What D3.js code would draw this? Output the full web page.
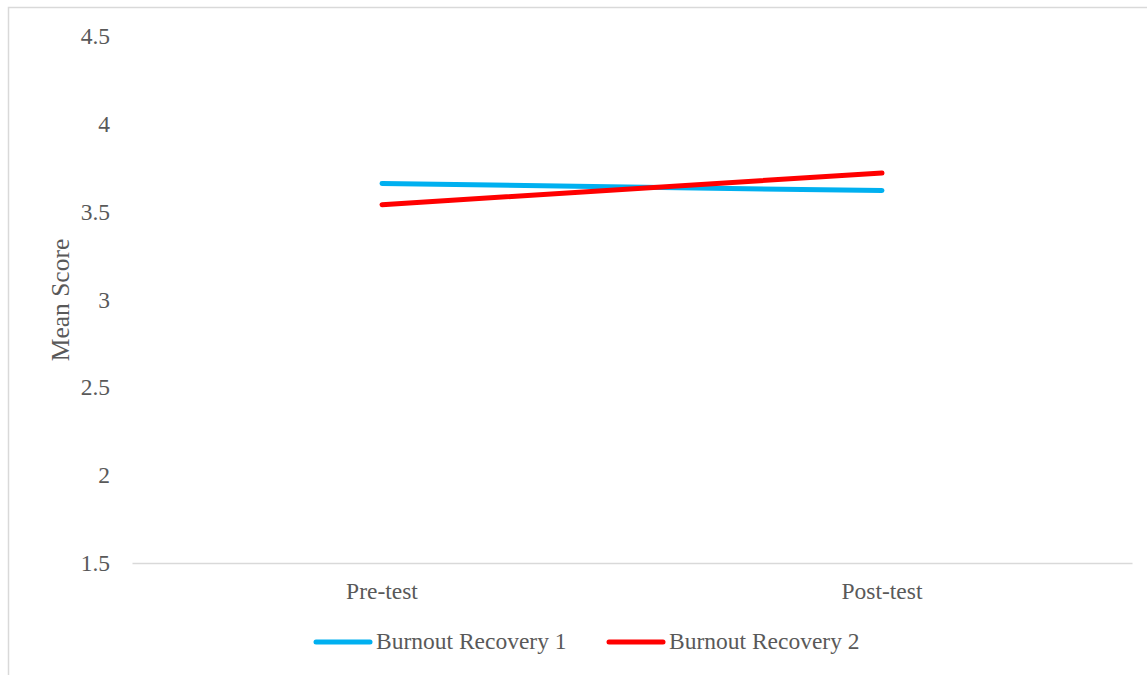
<!DOCTYPE html>
<html>
<head>
<meta charset="utf-8">
<script src="https://cdn.jsdelivr.net/npm/d3@7"></script>
<style>
  html, body { margin: 0; padding: 0; background: #fff; }
  svg { display: block; }
  text { font-family: "Liberation Serif", "Times New Roman", serif; fill: #595959; }
</style>
</head>
<body>
<svg id="chart" width="1147" height="675"></svg>
<script>
const categories = ["Pre-test", "Post-test"];
const seriesNames = ["Burnout Recovery 1", "Burnout Recovery 2"];
const recovery1 = [3.66, 3.62];
const recovery2 = [3.54, 3.72];
const yTicks = [1.5, 2, 2.5, 3, 3.5, 4, 4.5];
const yTickLabels = ["1.5", "2", "2.5", "3", "3.5", "4", "4.5"];
const colors = ["#00B0F0", "#FF0000"];

const series = [
  { name: seriesNames[0], values: recovery1, color: colors[0] },
  { name: seriesNames[1], values: recovery2, color: colors[1] }
];

const svg = d3.select("#chart");

// outer border (chart area frame)
svg.append("rect")
  .attr("x", 8.5).attr("y", 7.5)
  .attr("width", 1200).attr("height", 700)
  .attr("fill", "none").attr("stroke", "#d9d9d9").attr("stroke-width", 1.5);

const plotLeft = 132, plotRight = 1132, plotTop = 36, plotBottom = 563;

const x = d3.scaleBand().domain(categories).range([plotLeft, plotRight]);
const y = d3.scaleLinear().domain([1.5, 4.5]).range([plotBottom, plotTop]);

// y tick labels
const yAxis = d3.axisLeft(y).tickValues(yTicks)
  .tickFormat((d, i) => yTickLabels[i]).tickSize(0).tickPadding(0);
const yg = svg.append("g").attr("transform", `translate(110,0)`).call(yAxis);
yg.select(".domain").remove();
yg.selectAll("text")
  .style("font-family", '"Liberation Serif", "Times New Roman", serif')
  .style("font-size", "23.5px").attr("fill", "#595959")
  .attr("dy", "0.32em");

// x axis line and labels
const xAxis = d3.axisBottom(x).tickSize(0).tickPadding(0);
const xg = svg.append("g").attr("transform", `translate(0,${plotBottom})`).call(xAxis);
xg.select(".domain").attr("stroke", "#d9d9d9").attr("stroke-width", 1.5);
xg.selectAll("text")
  .style("font-family", '"Liberation Serif", "Times New Roman", serif')
  .style("font-size", "23.5px").attr("fill", "#595959")
  .attr("y", 36).attr("dy", 0);

// y axis title
svg.append("text")
  .attr("transform", "translate(69,300) rotate(-90)")
  .attr("text-anchor", "middle")
  .style("font-size", "25.5px")
  .text("Mean Score");

// lines
const line = d3.line()
  .x((d, i) => x(categories[i]) + x.bandwidth() / 2)
  .y(d => y(d));

svg.selectAll("path.series").data(series).enter().append("path")
  .attr("class", "series")
  .attr("d", d => line(d.values))
  .attr("fill", "none")
  .attr("stroke", d => d.color)
  .attr("stroke-width", 5)
  .attr("stroke-linecap", "round");

// legend
const legendItems = [
  { x: 316, s: series[0] },
  { x: 609, s: series[1] }
];
const lg = svg.append("g");
legendItems.forEach(it => {
  lg.append("line")
    .attr("x1", it.x).attr("x2", it.x + 54)
    .attr("y1", 642).attr("y2", 642)
    .attr("stroke", it.s.color).attr("stroke-width", 5)
    .attr("stroke-linecap", "round");
  lg.append("text")
    .attr("x", it.x + 60).attr("y", 649)
    .style("font-size", "23.5px")
    .text(it.s.name);
});
</script>
</body>
</html>
